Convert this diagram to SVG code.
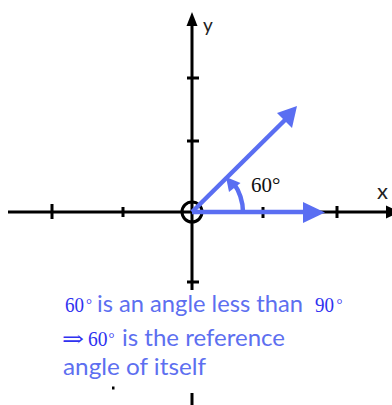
<svg xmlns="http://www.w3.org/2000/svg" width="392" height="405" viewBox="0 0 392 405">
<style>
.axis{stroke:#000;stroke-width:3;fill:none}
.tick{fill:#000}
.head{fill:#000}
.vec{stroke:#5a6ef2;stroke-width:4.5;fill:none;stroke-linecap:butt}
.vhead{fill:#5a6ef2}
.serif{font-family:"Liberation Serif","DejaVu Serif",serif}
.sans{font-family:Lato,"Open Sans","Liberation Sans",sans-serif}
.num{fill:#2f32f0;font-size:21px}
.deg{fill:#2f32f0;font-size:15px}
.words{fill:#5d6ff0;font-size:23.5px}
</style>
<rect width="392" height="405" fill="#fff"/>
<g id="axes">
  <line class="axis" x1="8" y1="212" x2="388" y2="212"/>
  <polygon class="head" points="386,205.5 400,212 386,218.5"/>
  <line class="axis" x1="192" y1="24" x2="192" y2="290"/>
  <polygon class="head" points="186.5,26 192,12 197.5,26"/>
  <line class="axis" x1="192" y1="393" x2="192" y2="405"/>
  <circle class="axis" cx="192" cy="212" r="10"/>
</g>
<g id="ticks">
  <rect class="tick" x="50.5" y="204" width="3" height="15"/>
  <rect class="tick" x="121.5" y="207" width="3" height="10"/>
  <rect class="tick" x="261.5" y="207" width="3" height="11"/>
  <rect class="tick" x="335.5" y="206" width="3" height="12"/>
  <rect class="tick" x="187" y="76.5" width="12" height="3"/>
  <rect class="tick" x="187" y="139.5" width="12" height="3"/>
  <rect class="tick" x="187" y="280.5" width="12" height="3"/>
  <rect class="tick" x="112" y="386.5" width="2.5" height="3"/>
</g>
<g id="connectors">
  <line class="vec" x1="192" y1="212" x2="306" y2="212"/>
  <polygon class="vhead" points="303,202 325,212.5 303,223"/>
  <line class="vec" x1="192" y1="212" x2="286" y2="119"/>
  <polygon class="vhead" points="297,106 277,113 292,128"/>
  <path class="vec" stroke-width="3.5" d="M243,212 A51,51 0 0 0 233.5,183"/>
  <polygon class="vhead" points="226,177 240.5,183 229,192"/>
</g>
<g id="graph-labels">
  <text class="serif" x="251" y="192" font-size="21" fill="#111">60°</text>
  <text class="sans" x="377" y="199" font-size="22" fill="#222">x</text>
  <text class="sans" x="203" y="32" font-size="19" fill="#222">y</text>
</g>
<g id="caption">
  <text class="serif num" x="65" y="312" textLength="19" lengthAdjust="spacingAndGlyphs">60</text>
  <text class="serif deg" x="86" y="309">°</text>
  <text class="sans words" x="97" y="312" textLength="206" lengthAdjust="spacingAndGlyphs">is an angle less than</text>
  <text class="serif num" x="315" y="312" textLength="19" lengthAdjust="spacingAndGlyphs">90</text>
  <text class="serif deg" x="336.5" y="309">°</text>
  <text class="serif num" x="62" y="346" font-size="26" textLength="22" lengthAdjust="spacingAndGlyphs">⇒</text>
  <text class="serif num" x="88" y="346" textLength="19.5" lengthAdjust="spacingAndGlyphs">60</text>
  <text class="serif deg" x="108.5" y="343">°</text>
  <text class="sans words" x="122" y="346" textLength="163" lengthAdjust="spacingAndGlyphs">is the reference</text>
  <text class="sans words" x="63" y="375" textLength="143" lengthAdjust="spacingAndGlyphs">angle of itself</text>
</g>
</svg>
